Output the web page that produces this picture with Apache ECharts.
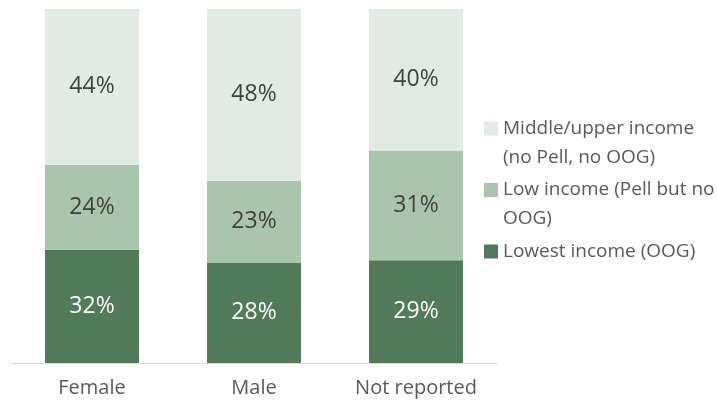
<!DOCTYPE html>
<html>
<head>
<meta charset="utf-8">
<script src="https://cdn.jsdelivr.net/npm/echarts@6/dist/echarts.min.js"></script>
<style>
  html, body { margin: 0; padding: 0; background: #ffffff; }
  #chart { width: 717px; height: 404px; }
</style>
</head>
<body>
<div id="chart"></div>
<script>
// Income groups by gender (shares, %)
const categories = ['Female', 'Male', 'Not reported'];
const seriesNames = [
  'Lowest income (OOG)',
  'Low income (Pell but no\nOOG)',
  'Middle/upper income\n(no Pell, no OOG)'
];
const lowestIncome = [32, 28, 29];
const lowIncome = [24, 23, 31];
const middleUpperIncome = [44, 48, 40];

const colors = ['#507A58', '#A9C6AD', '#E2EBE3'];
const labelColors = ['#ffffff', '#404040', '#404040'];
const FONT = '"Open Sans", sans-serif';

const raw = [lowestIncome, lowIncome, middleUpperIncome];
// 100% stacked: each column is scaled by its own total
const totals = categories.map((_, i) => raw.reduce((s, arr) => s + arr[i], 0));

const series = raw.map((arr, k) => ({
  name: seriesNames[k],
  type: 'bar',
  stack: 'share',
  barWidth: '58%',
  data: arr.map((v, i) => v / totals[i] * 100),
  itemStyle: { color: colors[k] },
  label: {
    show: true,
    position: 'inside',
    color: labelColors[k],
    fontFamily: FONT,
    fontSize: 23,
    formatter: p => arr[p.dataIndex] + '%'
  },
  emphasis: { disabled: true }
}));

const rich = {
  gap: { width: 5 },
  indent: { width: 19 },
  txt: { fontFamily: FONT, fontSize: 19, color: '#595959', lineHeight: 29 }
};
colors.forEach((c, k) => {
  rich['box' + k] = { width: 14, height: 14, backgroundColor: c, lineHeight: 29 };
});

const chart = echarts.init(document.getElementById('chart'));
chart.setOption({
  animation: false,
  grid: { left: 11, right: 220, top: 9, bottom: 41, containLabel: false },
  xAxis: {
    type: 'category',
    data: categories,
    axisLine: { lineStyle: { color: '#D9D9D9', width: 1 } },
    axisTick: { show: false },
    axisLabel: { color: '#595959', fontFamily: FONT, fontSize: 20, margin: 15 }
  },
  yAxis: {
    type: 'value',
    min: 0,
    max: 100,
    show: false
  },
  legend: {
    orient: 'vertical',
    left: 474,
    top: 109,
    icon: 'none',
    itemWidth: 0,
    itemHeight: 0,
    itemGap: 3.5,
    selectedMode: false,
    data: [seriesNames[2], seriesNames[1], seriesNames[0]],
    formatter: name => {
      const k = seriesNames.indexOf(name);
      const lines = name.split('\n');
      return lines.map((ln, j) =>
        (j === 0 ? '{box' + k + '|}{gap|}' : '{indent|}') + '{txt|' + ln + '}'
      ).join('\n');
    },
    textStyle: { rich: rich, lineHeight: 29 }
  },
  series: series
});
</script>
</body>
</html>
